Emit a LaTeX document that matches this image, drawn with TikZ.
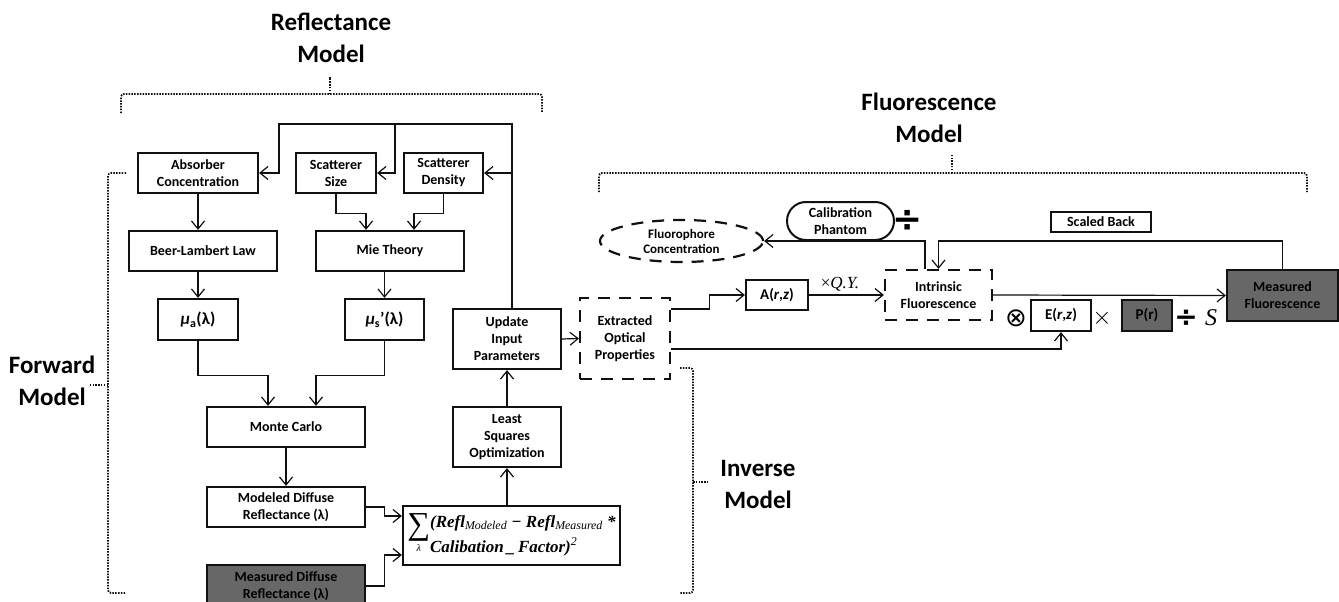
\documentclass[tikz,border=0pt]{standalone}
\usepackage{fontspec}
\setmainfont{Carlito}
\newfontfamily\serifit{Liberation Serif}
\newfontfamily\symfont{DejaVu Sans}
\usetikzlibrary{positioning,arrows.meta,shapes.geometric}
\definecolor{ink}{HTML}{111111}
\definecolor{shade}{HTML}{676767}

\begin{document}
\begin{tikzpicture}[x=1pt,y=-1pt,
  font=\bfseries\fontsize{14}{17}\selectfont,
  box/.style={draw=ink,line width=2.2pt,inner sep=0pt,align=center},
  dbox/.style={draw=ink,line width=2.2pt,dash pattern=on 12pt off 9pt,inner sep=0pt,align=center},
  gbox/.style={box,fill=shade},
  conn/.style={draw=ink,line width=1.2pt,-{Straight Barb[length=8pt,width=13pt]}},
  brk/.style={draw=ink,line width=1.8pt,dash pattern=on 1.5pt off 1.3pt,rounded corners=3pt},
  ttl/.style={font=\bfseries\fontsize{25}{32}\selectfont,align=center}]
  \clip (0,0) rectangle (1339,602);

  \node[ttl] (trefl) at (331,38) {Reflectance\\Model};
  \node[ttl] (tfluo) at (929,118) {Fluorescence\\Model};
  \node[ttl] (tfwd) at (52,381) {Forward\\Model};
  \node[ttl] (tinv) at (758,484) {Inverse\\Model};

  % forward model
  \node[box,minimum width=120,minimum height=40] (absorber) at (198,173) {Absorber\\Concentration};
  \node[box,minimum width=80,minimum height=40] (ssize) at (336,173) {Scatterer\\Size};
  \node[box,minimum width=79,minimum height=40] (sdens) at (443.5,173) {Scatterer\\Density};
  \node[box,minimum width=148,minimum height=40] (beer) at (203,251) {Beer-Lambert Law};
  \node[box,minimum width=148,minimum height=40] (mie) at (390,251) {Mie Theory};
  \node[box,minimum width=80,minimum height=41,font=\bfseries\fontsize{17}{20}\selectfont] (mua) at (198,319.5) {\textit{μ}\textsubscript{a}(λ)};
  \node[box,minimum width=79,minimum height=41,font=\bfseries\fontsize{17}{20}\selectfont] (mus) at (384.5,319.5) {\textit{μ}\textsubscript{s}’(λ)};
  \node[box,minimum width=158,minimum height=40] (mc) at (286,427) {Monte Carlo};
  \node[box,minimum width=158,minimum height=40] (modeled) at (286,507) {Modeled Diffuse\\Reflectance (λ)};
  \node[gbox,minimum width=158,minimum height=42] (measured) at (286,586) {Measured Diffuse\\Reflectance (λ)};

  % inverse model
  \node[box,minimum width=108,minimum height=60] (lsq) at (507,437) {Least\\Squares\\Optimization};
  \node[box,minimum width=108,minimum height=60] (update) at (507,339) {Update\\Input\\Parameters};
  \node[box,minimum width=217,minimum height=59] (sum) at (511.5,535.5)
    {\serifit\bfseries\itshape\fontsize{17}{21}\selectfont
     \begin{tabular}{@{}c@{}}{\mdseries\upshape\fontsize{32}{28}\selectfont ∑}\\[-4pt]{\mdseries\fontsize{10}{10}\selectfont λ}\end{tabular}%
     \begin{tabular}{@{}l@{}}(Refl\textsubscript{\mdseries Modeled} − Refl\textsubscript{\mdseries Measured} *\\[4pt]Calibation\,\_\,Factor)\textsuperscript{\mdseries 2}\end{tabular}};
  \node[dbox,minimum width=90,minimum height=81] (extr) at (625,338.5) {Extracted\\Optical\\Properties};

  % fluorescence model
  \node[dbox,ellipse,minimum width=163,minimum height=42,font=\bfseries\fontsize{13}{15}\selectfont] (fconc) at (681.5,241) {Fluorophore\\Concentration};
  \node[box,line width=2pt,rounded corners=19pt,minimum width=107,minimum height=38] (calib) at (840.5,221) {Calibration\\Phantom};
  \node[box,minimum width=62,minimum height=30,font=\bfseries\fontsize{15}{18}\selectfont] (arz) at (777,295) {A(\textit{r},\textit{z})};
  \node[dbox,minimum width=107,minimum height=50] (intr) at (938.5,295) {Intrinsic\\Fluorescence};
  \node[box,line width=2pt,minimum width=100,minimum height=20] (scaled) at (1101,222) {Scaled Back};
  \node[gbox,minimum width=111,minimum height=51] (mfl) at (1282.5,295.5) {Measured\\Fluorescence};
  \node[box,minimum width=60,minimum height=31,font=\bfseries\fontsize{15}{18}\selectfont] (erz) at (1061,315.5) {E(\textit{r},\textit{z})};
  \node[gbox,minimum width=50,minimum height=31,font=\bfseries\fontsize{15}{18}\selectfont] (pr) at (1147,315.5) {P(r)};

  \node[font=\symfont\bfseries\fontsize{36}{36}\selectfont] (div1) at (908,221) {÷};
  \node[font=\symfont\mdseries\fontsize{26}{26}\selectfont] (otim) at (1016,318) {⊗};
  \node[font=\mdseries\fontsize{28}{28}\selectfont] (tim) at (1102,318) {$\times$};
  \node[font=\symfont\bfseries\fontsize{28}{28}\selectfont] (div2) at (1186,318) {÷};
  \node[font=\serifit\itshape\mdseries\fontsize{24}{24}\selectfont] (ssym) at (1211,318) {S};
  \node[font=\serifit\mdseries\fontsize{17}{17}\selectfont] (qy) at (840,284) {×\textit{Q.Y.}};

  % feedback
  \coordinate (fbl) at (279,124);
  \coordinate (fbm) at (395,124);
  \draw[conn] ([xshift=5pt]update.north) |- (fbl) |- (absorber.east);
  \draw[conn] ([xshift=5pt]update.north) |- (sdens.east);
  \draw[conn] (fbm) |- (ssize.east);

  \draw[conn] (absorber.south) -- (absorber.south |- beer.north);
  \draw[conn] (mua.north |- beer.south) -- (mua.north);
  \draw[conn] (ssize.south) -- ++(0,19) -| ([xshift=-24pt]mie.north);
  \draw[conn] (sdens.south) -- ++(0,19) -| ([xshift=24pt]mie.north);
  \draw[conn] (mus.north |- mie.south) -- (mus.north);
  \draw[conn] (mua.south) -- ++(0,34) -| ([xshift=-18pt]mc.north);
  \draw[conn] (mus.south) -- ++(0,34) -| ([xshift=30pt]mc.north);
  \draw[conn] (mc.south) -- (modeled.north);
  \draw[conn] (modeled.east) -- ++(18,0) |- ([yshift=19.5pt]sum.west);
  \draw[conn] (measured.east) -- ++(18,0) |- ([yshift=-19.5pt]sum.west);
  \draw[conn] (lsq.south |- sum.north) -- (lsq.south);
  \draw[conn] (lsq.north) -- (update.south);
  \draw[conn] (update.east) -- (extr.west);

  \draw[conn] ([yshift=29.5pt]extr.east) -- ++(38,0) |- (arz.west);
  \draw[conn] ([yshift=-10.5pt]extr.east) -| (erz.south);
  \draw[conn] (arz.east) -- (intr.west);
  \draw[conn] (intr.east) -- (mfl.west);
  \draw[conn] (mfl.north) |- (intr.north |- calib.south) -- (intr.north);
  \draw[conn] ([xshift=-13.5pt]intr.north) |- (fconc.east);

  % brackets
  \draw[brk] (121,113) -- (121,94) -- (542,94) -- (542,113);
  \draw[brk] (330,94) -- (330,77);
  \draw[brk] (126,173) -- (108,173) -- (108,593) -- (126,593);
  \draw[brk] (108,385) -- (90,385);
  \draw[brk] (680,368) -- (693,368) -- (693,593) -- (680,593);
  \draw[brk] (693,482) -- (708,482);
  \draw[brk] (599,192) -- (599,173) -- (1307,173) -- (1307,192);
  \draw[brk] (952,173) -- (952,155);
\end{tikzpicture}
\end{document}
